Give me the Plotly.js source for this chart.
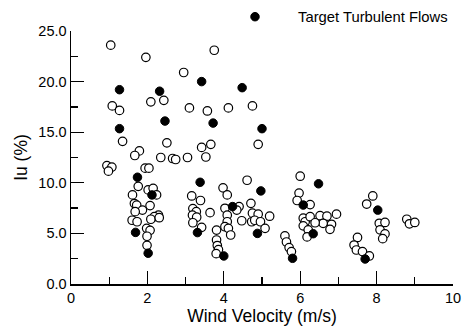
<!DOCTYPE html>
<html>
<head>
<meta charset="utf-8">
<script src="https://cdn.plot.ly/plotly-3.0.1.min.js"></script>
<style>html,body{margin:0;padding:0;background:#fff;}#chart{width:462px;height:331px;}</style>
</head>
<body>
<div id="chart"></div>
<script>
// Open circles: all measured flows
const openX = [
  1.04,1.96,3.75,2.95,2.09,2.43,1.08,1.27,3.10,3.57,4.12,4.75,1.35,2.51,1.79,1.67,3.66,3.42,4.90,2.35,2.66,2.74,3.05,3.53,0.94,1.07,0.98,1.94,2.04,
  1.76,2.02,2.15,2.24,1.61,1.66,1.72,2.07,1.87,1.68,2.29,2.18,2.09,2.31,1.60,1.73,1.98,2.07,1.99,1.99,
  4.61,3.98,4.09,3.16,3.39,4.71,3.19,3.28,3.64,4.03,4.40,4.34,4.75,4.90,5.20,4.09,4.09,3.18,3.29,3.19,3.42,4.47,4.73,4.81,4.96,5.08,3.81,4.03,4.12,4.18,3.81,3.83,3.86,3.80,
  6.00,5.97,5.92,6.26,6.08,6.13,6.26,6.52,6.70,6.95,6.82,6.60,6.39,6.08,6.21,6.78,6.18,5.60,5.64,5.71,5.77,
  7.90,7.74,8.07,8.22,8.09,8.22,8.16,8.79,8.86,9.00,7.50,7.41,7.47,7.63,7.81
];
const openY = [
  23.6,22.4,23.1,20.9,18.0,18.15,17.6,17.15,17.4,17.1,17.4,17.6,14.1,13.95,13.15,12.7,13.8,13.5,13.8,12.5,12.4,12.3,12.5,12.55,11.7,11.55,11.15,11.45,11.45,
  9.65,9.3,9.45,8.8,8.8,7.95,7.8,7.75,7.3,7.15,6.8,6.65,6.4,6.55,6.3,6.15,5.5,5.3,4.72,3.82,
  10.25,9.5,8.8,8.7,8.25,7.97,7.45,7.15,7.05,7.48,7.65,7.3,7.0,6.9,6.7,6.8,6.15,6.8,6.6,6.05,5.6,6.25,6.15,6.3,6.15,5.5,5.33,5.66,5.5,4.84,4.35,3.8,3.4,3.0,
  10.65,8.98,8.25,7.85,6.5,6.15,6.65,6.75,6.7,6.9,5.9,6.0,6.05,5.75,5.35,5.4,4.65,4.75,4.15,3.6,3.2,
  8.7,7.9,6.0,6.08,5.35,4.95,4.48,6.4,5.95,6.08,4.6,3.85,3.36,3.2,2.77
];
// Filled circles: target turbulent flows
const targetX = [1.27,1.27,2.32,2.46,3.42,3.72,4.48,5.00,1.74,2.12,1.69,2.02,3.38,3.31,4.97,4.23,4.88,4.00,6.08,6.48,6.34,5.80,8.03,7.70];
const targetY = [19.2,15.35,19.05,16.1,20.0,15.9,19.4,15.35,10.55,8.8,5.1,3.04,10.05,5.08,9.2,7.65,5.0,2.77,7.8,9.9,4.97,2.54,7.3,2.47];

const xTicks = [0,2,4,6,8,10];
const yTicks = [0,5,10,15,20,25];
const yTickText = ["0.0","5.0","10.0","15.0","20.0","25.0"];

const font = "Liberation Sans, Arial, sans-serif";

const data = [
  {x: openX, y: openY, type: 'scatter', mode: 'markers', showlegend: false,
   marker: {symbol: 'circle', size: 8.5, color: '#ffffff', line: {color: '#000000', width: 1.2}},
   cliponaxis: false},
  {x: targetX, y: targetY, type: 'scatter', mode: 'markers', name: 'Target Turbulent Flows',
   marker: {symbol: 'circle', size: 8.5, color: '#000000', line: {color: '#000000', width: 1}},
   cliponaxis: false}
];

const layout = {
  width: 462, height: 331,
  margin: {l: 71, r: 9, t: 31, b: 47, autoexpand: false},
  paper_bgcolor: '#ffffff', plot_bgcolor: '#ffffff',
  font: {family: font, color: '#000000', size: 14},
  showlegend: true,
  legend: {x: 1.0, xanchor: 'right', y: 1.055, yanchor: 'middle', bgcolor: 'rgba(0,0,0,0)',
           font: {family: font, size: 14.8, color: '#000'}, itemwidth: 76, borderwidth: 0},
  xaxis: {
    range: [0, 10], tickvals: xTicks, ticktext: xTicks.map(String),
    ticks: 'inside', ticklen: 13, tickwidth: 1.3, tickcolor: '#000',
    minor: {dtick: 1, ticks: 'inside', ticklen: 7, tickwidth: 1.3, tickcolor: '#000', showgrid: false},
    showline: true, linecolor: '#000', linewidth: 1.5, showgrid: false, zeroline: false,
    tickfont: {family: font, size: 14.5, color: '#000'},
    title: {text: 'Wind Velocity (m/s)', font: {family: font, size: 17.5, color: '#000'}, standoff: 5}
  },
  yaxis: {
    range: [0, 25], tickvals: yTicks, ticktext: yTickText,
    ticks: 'inside', ticklen: 13, tickwidth: 1.3, tickcolor: '#000',
    minor: {dtick: 2.5, ticks: 'inside', ticklen: 7, tickwidth: 1.3, tickcolor: '#000', showgrid: false},
    showline: true, linecolor: '#000', linewidth: 1.5, showgrid: false, zeroline: false,
    tickfont: {family: font, size: 14.5, color: '#000'},
    title: {text: 'Iu (%)', font: {family: font, size: 17.5, color: '#000'}, standoff: 6}
  }
};

Plotly.newPlot('chart', data, layout, {displayModeBar: false, staticPlot: true});
</script>
</body>
</html>
